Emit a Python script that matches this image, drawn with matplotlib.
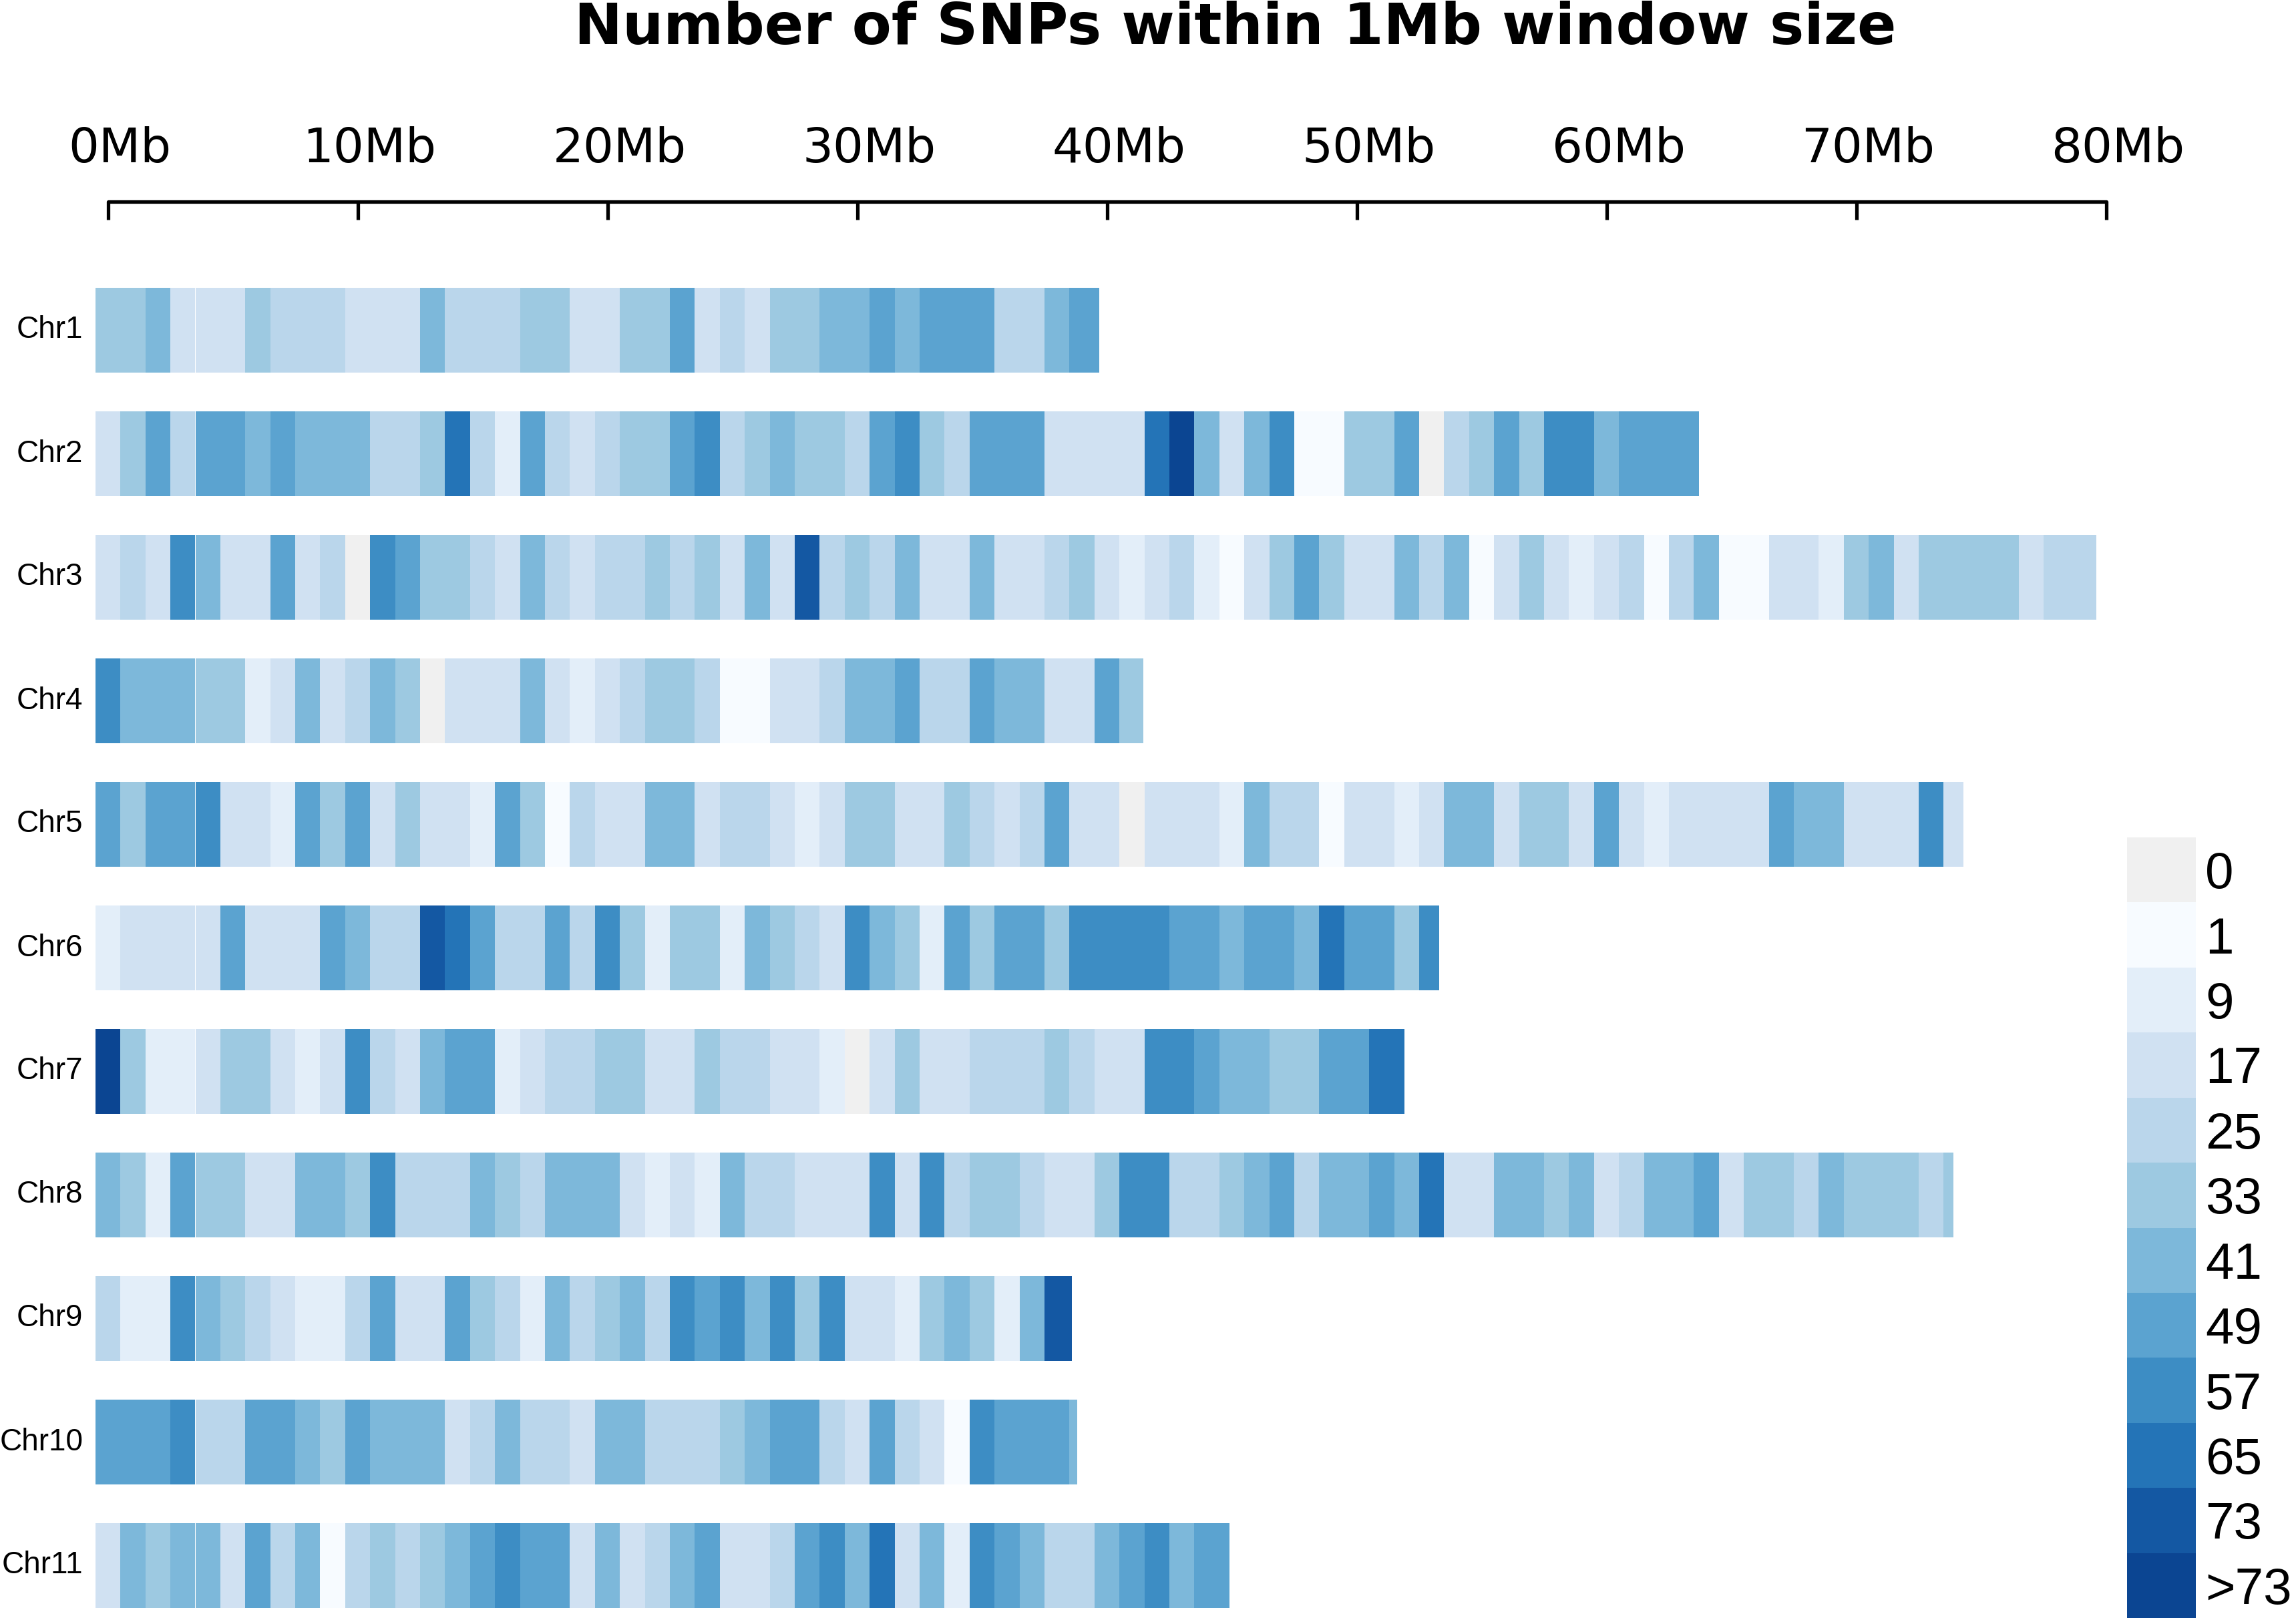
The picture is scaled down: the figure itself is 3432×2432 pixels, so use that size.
"""
SNP density along chromosomes (1Mb windows), CMplot-style.
"""

import numpy as np
import matplotlib
matplotlib.use("Agg")
import matplotlib.pyplot as plt
from matplotlib.colors import ListedColormap, BoundaryNorm
from matplotlib.transforms import ScaledTranslation

# ──────────────────────────────────────────────────────────────
#  Data: SNP count per 1Mb window (window k centred on k Mb)
# ──────────────────────────────────────────────────────────────
CHR_NAMES = ["Chr1", "Chr2", "Chr3", "Chr4", "Chr5", "Chr6",
             "Chr7", "Chr8", "Chr9", "Chr10", "Chr11"]

# end of each chromosome bar (Mb)
CHR_END_MB = [39.7, 63.7, 79.6, 41.45, 74.3, 53.3, 51.9, 73.9, 38.6, 38.8, 44.9]

CHR1 = [29, 29, 37, 13, 13, 13, 29, 21, 21, 21, 13, 13, 13, 37, 21, 21, 21, 29, 29, 13,
        13, 29, 29, 45, 13, 21, 13, 29, 29, 37, 37, 45, 37, 45, 45, 45, 21, 21, 37, 45,
        45]
CHR2 = [13, 29, 45, 21, 45, 45, 37, 45, 37, 37, 37, 21, 21, 29, 61, 21, 5, 45, 21, 13,
        21, 29, 29, 45, 53, 21, 29, 37, 29, 29, 21, 45, 53, 29, 21, 45, 45, 45, 13, 13,
        13, 13, 61, 78, 37, 13, 37, 53, 1, 1, 29, 29, 45, 0, 21, 29, 45, 29, 53, 53,
        37, 45, 45, 45, 45]
CHR3 = [13, 21, 13, 53, 37, 13, 13, 45, 13, 21, 0, 53, 45, 29, 29, 21, 13, 37, 21, 13,
        21, 21, 29, 21, 29, 13, 37, 13, 69, 21, 29, 21, 37, 13, 13, 37, 13, 13, 21, 29,
        13, 5, 13, 21, 5, 1, 13, 29, 45, 29, 13, 13, 37, 21, 37, 1, 13, 29, 13, 5,
        13, 21, 1, 21, 37, 1, 1, 13, 13, 5, 29, 37, 13, 29, 29, 29, 29, 13, 21, 21,
        21]
CHR4 = [53, 37, 37, 37, 29, 29, 5, 13, 37, 13, 21, 37, 29, 0, 13, 13, 13, 37, 13, 5,
        13, 21, 29, 29, 21, 1, 1, 13, 13, 21, 37, 37, 45, 21, 21, 45, 37, 37, 13, 13,
        45, 29]
CHR5 = [45, 29, 45, 45, 53, 13, 13, 5, 45, 29, 45, 13, 29, 13, 13, 5, 45, 29, 1, 21,
        13, 13, 37, 37, 13, 21, 21, 13, 5, 13, 29, 29, 13, 13, 29, 21, 13, 21, 45, 13,
        13, 0, 13, 13, 13, 5, 37, 21, 21, 1, 13, 13, 5, 13, 37, 37, 13, 29, 29, 13,
        45, 13, 5, 13, 13, 13, 13, 45, 37, 37, 13, 13, 13, 53, 13]
CHR6 = [5, 13, 13, 13, 13, 45, 13, 13, 13, 45, 37, 21, 21, 69, 61, 45, 21, 21, 45, 21,
        53, 29, 5, 29, 29, 5, 37, 29, 21, 13, 53, 37, 29, 5, 45, 29, 45, 45, 29, 53,
        53, 53, 53, 45, 45, 37, 45, 45, 37, 61, 45, 45, 29, 53]
CHR7 = [78, 29, 5, 5, 13, 29, 29, 13, 5, 13, 53, 21, 13, 37, 45, 45, 5, 13, 21, 21,
        29, 29, 13, 13, 29, 21, 21, 13, 13, 5, 0, 13, 29, 13, 13, 21, 21, 21, 29, 21,
        13, 13, 53, 53, 45, 37, 37, 29, 29, 45, 45, 61, 61]
CHR8 = [37, 29, 5, 45, 29, 29, 13, 13, 37, 37, 29, 53, 21, 21, 21, 37, 29, 21, 37, 37,
        37, 13, 5, 13, 5, 37, 21, 21, 13, 13, 13, 53, 13, 53, 21, 29, 29, 21, 13, 13,
        29, 53, 53, 21, 21, 29, 37, 45, 21, 37, 37, 45, 37, 61, 13, 13, 37, 37, 29, 37,
        13, 21, 37, 37, 45, 13, 29, 29, 21, 37, 29, 29, 29, 21, 29]
CHR9 = [21, 5, 5, 53, 37, 29, 21, 13, 5, 5, 21, 45, 13, 13, 45, 29, 21, 5, 37, 21,
        29, 37, 21, 53, 45, 53, 37, 53, 29, 53, 13, 13, 5, 29, 37, 29, 5, 37, 69, 69]
CHR10 = [45, 45, 45, 53, 21, 21, 45, 45, 37, 29, 45, 37, 37, 37, 13, 21, 37, 21, 21, 13,
         37, 37, 21, 21, 21, 29, 37, 45, 45, 21, 13, 45, 21, 13, 1, 53, 45, 45, 45, 37]
CHR11 = [13, 37, 29, 37, 37, 13, 45, 21, 37, 1, 21, 29, 21, 29, 37, 45, 53, 45, 45, 13,
         37, 13, 21, 37, 45, 13, 13, 21, 45, 53, 37, 61, 13, 37, 5, 53, 45, 37, 21, 21,
         37, 45, 53, 37, 45, 45]

CHR_COUNTS = [CHR1, CHR2, CHR3, CHR4, CHR5, CHR6, CHR7, CHR8, CHR9, CHR10, CHR11]

# legend bins (label = upper bound of the bin)
LEGEND_LABELS = ["0", "1", "9", "17", "25", "33", "41", "49", "57", "65", "73", ">73"]
BIN_BOUNDS = [-0.5, 0.5, 1.5, 9.5, 17.5, 25.5, 33.5, 41.5, 49.5, 57.5, 65.5, 73.5, 1e6]
LEVEL_COLORS = ["#F0F0F0", "#F7FBFF", "#E3EEF9", "#D0E1F2", "#BAD6EB", "#9DC9E1",
                "#7DB8DA", "#5BA3D0", "#3D8DC4", "#2474B7", "#1458A3", "#0B4592"]

AXIS_TICKS = list(range(0, 81, 10))

# ──────────────────────────────────────────────────────────────
#  Layout (figure pixels at 200 dpi → 3432 x 2432)
# ──────────────────────────────────────────────────────────────
DPI = 200
W_PX, H_PX = 3432, 2432
PX_PER_MB = 37.4
X0_PX = 161.6            # x pixel of 0Mb
AXIS_Y_PX = 302          # y pixel of the scale line (from top)
ROW0_PX = 494.5
ROW_STEP_PX = 185
BAR_H = 127 / ROW_STEP_PX

cmap = ListedColormap(LEVEL_COLORS)
norm = BoundaryNorm(BIN_BOUNDS, cmap.N)

fig = plt.figure(figsize=(W_PX / DPI, H_PX / DPI), dpi=DPI)

ax = fig.add_axes([0, 0, 1, 1 - AXIS_Y_PX / H_PX])
ax.set_xlim(-X0_PX / PX_PER_MB, (W_PX - X0_PX) / PX_PER_MB)
ax.set_ylim((H_PX - ROW0_PX) / ROW_STEP_PX, -(ROW0_PX - AXIS_Y_PX) / ROW_STEP_PX)

for i, (name, counts, end) in enumerate(zip(CHR_NAMES, CHR_COUNTS, CHR_END_MB)):
    counts = np.asarray(counts)
    centers = np.arange(len(counts))
    lefts = centers - 0.5
    widths = np.minimum(1.0, end - lefts)
    ax.barh(i, widths, left=lefts, height=BAR_H,
            color=cmap(norm(counts)), linewidth=0)
    ax.text(-1.0, i, name, ha="right", va="center",
            fontsize=16.5, family="Liberation Sans")

# scale bar on top
for side in ["left", "right", "bottom"]:
    ax.spines[side].set_visible(False)
ax.spines["top"].set_linewidth(1.9)
ax.spines["top"].set_bounds(0, 80)
ax.spines["top"].set_capstyle("round")
ax.set_yticks([])
ax.xaxis.tick_top()
ax.set_xticks(AXIS_TICKS)
ax.set_xticklabels([f"{t}Mb" for t in AXIS_TICKS])
ax.tick_params(axis="x", direction="in", length=9.7, width=1.9,
               pad=16, labelsize=26)
shift = ScaledTranslation(18 / DPI, 0, fig.dpi_scale_trans)
for lab in ax.get_xticklabels():
    lab.set_family("DejaVu Sans")
    lab.set_transform(lab.get_transform() + shift)

# title
fig.text(1850 / W_PX, 1 - 66 / H_PX, "Number of SNPs within 1Mb window size",
         ha="center", va="baseline", fontsize=31, fontweight="bold",
         family="DejaVu Sans")

# colour key
lax = fig.add_axes([3185 / W_PX, 1 - 2423 / H_PX, 103 / W_PX, 1169 / H_PX])
levels = np.arange(len(LEVEL_COLORS))
lax.barh(levels, 1, height=1, left=0, color=LEVEL_COLORS, linewidth=0)
lax.set_xlim(0, 1)
lax.set_ylim(len(LEVEL_COLORS) - 0.5, -0.5)
for s in lax.spines.values():
    s.set_visible(False)
lax.set_xticks([])
lax.yaxis.tick_right()
lax.set_yticks(levels)
lax.set_yticklabels(LEGEND_LABELS)
lax.tick_params(axis="y", length=0, pad=5, labelsize=27.5)
for lab in lax.get_yticklabels():
    lab.set_family("Liberation Sans")

fig.savefig("out.png", dpi=DPI)
